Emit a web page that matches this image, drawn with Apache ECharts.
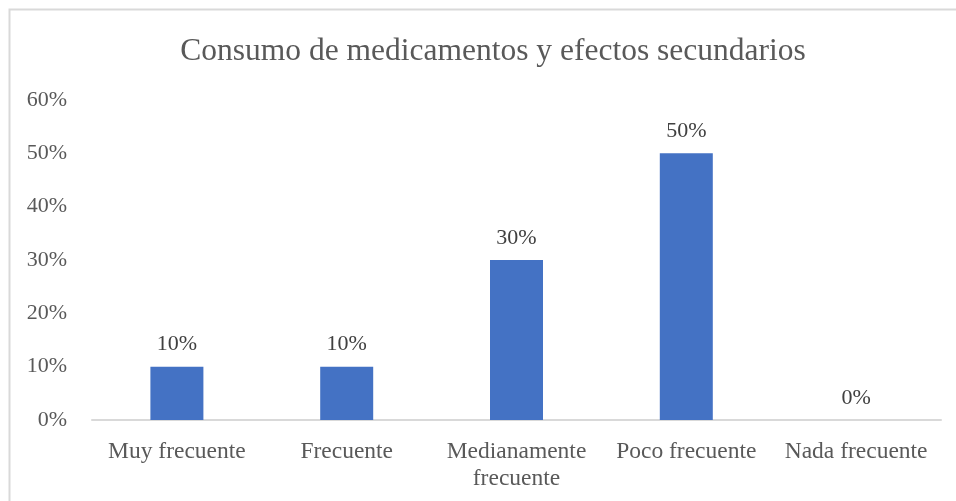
<!DOCTYPE html>
<html>
<head>
<meta charset="utf-8">
<script src="https://cdn.jsdelivr.net/npm/echarts@6/dist/echarts.min.js"></script>
<style>
html, body { margin: 0; padding: 0; background: #fff; }
#chart { width: 956px; height: 501px; }
</style>
</head>
<body>
<div id="chart"></div>
<script>
// Categories and percentages
const categories = ['Muy frecuente', 'Frecuente', 'Medianamente\nfrecuente', 'Poco frecuente', 'Nada frecuente'];
const values = [10, 10, 30, 50, 0];
const titleText = 'Consumo de medicamentos y efectos secundarios';

const serif = '"Liberation Serif", "DejaVu Serif", serif';
const chart = echarts.init(document.getElementById('chart'));

chart.setOption({
  animation: false,
  backgroundColor: '#ffffff',
  graphic: [{
    type: 'rect',
    shape: { x: 9.5, y: 9.5, width: 980, height: 520 },
    style: { fill: 'none', stroke: '#d9d9d9', lineWidth: 2 },
    silent: true
  }],
  title: {
    text: titleText,
    left: 488,
    textAlign: 'center',
    top: 31,
    textStyle: { fontFamily: serif, fontSize: 31.5, fontWeight: 'normal', color: '#595959' }
  },
  grid: { left: 92, right: 15, top: 100, bottom: 81 },
  xAxis: {
    type: 'category',
    data: categories,
    axisLine: { show: true, lineStyle: { color: '#d9d9d9', width: 2 } },
    axisTick: { show: false },
    axisLabel: {
      fontFamily: serif, fontSize: 23.5, color: '#595959',
      margin: 18, lineHeight: 27, interval: 0
    }
  },
  yAxis: {
    type: 'value',
    min: 0, max: 60, interval: 10,
    splitLine: { show: false },
    axisLine: { show: false },
    axisTick: { show: false },
    axisLabel: {
      fontFamily: serif, fontSize: 22, color: '#595959', margin: 25,
      formatter: v => v + '%'
    }
  },
  series: [{
    type: 'bar',
    data: values,
    barWidth: 53,
    itemStyle: { color: '#4472C4' },
    label: {
      show: true, position: 'top', distance: 11,
      fontFamily: serif, fontSize: 22, color: '#404040',
      formatter: p => p.value + '%'
    }
  }]
});
</script>
</body>
</html>
